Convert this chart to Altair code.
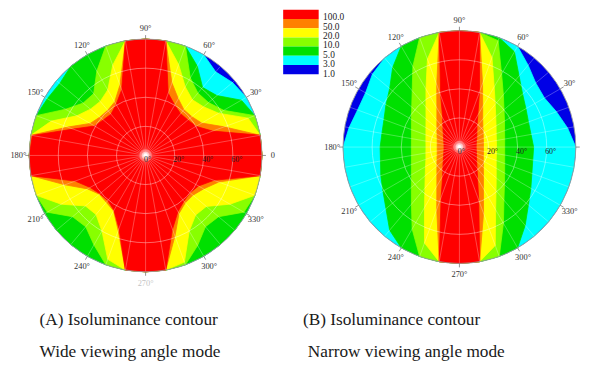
import math
import altair as alt
import pandas as pd

# ---------------- values ----------------
AZIMUTHS = [0, 10, 20, 30, 40, 50, 60, 70, 80, 90, 100, 110, 120, 130, 140, 150, 160, 170,
            180, 190, 200, 210, 220, 230, 240, 250, 260, 270, 280, 290, 300, 310, 320, 330, 340, 350]
MAX_POLAR = 80  # polar angle at the rim of each plot (deg)

LEVEL_LABELS = ["100.0", "50.0", "20.0", "10.0", "5.0", "3.0", "1.0"]
LEVEL_COLORS = ["#ff0000", "#ff8000", "#ffff00", "#88ff00", "#00e000", "#00ffff", "#0000e6"]

# Polar angle (deg) at which luminance falls below each level, per azimuth (A: wide mode)
A_100 = [80, 80, 49, 40, 38, 37.5, 40, 45.5, 80,
         80, 80, 48, 40.5, 37, 38, 40.5, 53, 79,
         80, 80, 51.5, 44, 41, 40.5, 43.5, 53.5, 80,
         80, 80, 54, 44.5, 41, 40, 42, 50, 80]
A_50 = [80, 80, 57.5, 44.5, 41.5, 41, 45, 53, 80,
        80, 80, 51.5, 42.5, 40.5, 41, 44, 57, 80,
        80, 80, 59, 46, 41.5, 42, 44, 55, 80,
        80, 80, 59, 46, 42.5, 42.5, 46, 53.5, 80]
A_20 = [80, 80, 75, 58, 52, 50, 54.5, 66.5, 80,
        80, 80, 66, 52, 48.5, 49.5, 54.5, 69, 80,
        80, 80, 80, 67, 54, 53, 60, 76, 80,
        80, 80, 78, 60, 53.5, 54.5, 67, 80, 80]
A_10 = [80, 80, 80, 62, 56.5, 56, 61.5, 80, 80,
        80, 80, 80, 67, 55.5, 56, 63.5, 80, 80,
        80, 80, 80, 78, 65.5, 64, 71, 80, 80,
        80, 80, 80, 71.5, 64, 65.5, 78, 80, 80]
A_5 = [80, 80, 80, 76, 64, 61, 71, 80, 80,
       80, 80, 80, 80, 80, 77, 78, 80, 80,
       80, 80, 80, 80, 80, 80, 80, 80, 80,
       80, 80, 80, 80, 80, 80, 80, 80, 80]
A_3 = [80, 80, 80, 80, 78, 75, 80, 80, 80,
       80, 80, 80, 80, 80, 80, 80, 80, 80,
       80, 80, 80, 80, 80, 80, 80, 80, 80,
       80, 80, 80, 80, 80, 80, 80, 80, 80]

# (B: narrow mode)
B_100 = [11.5, 11.8, 12.5, 13.8, 15.7, 18.8, 25.3, 40.3, 80,
         80, 80, 37.7, 23, 17.7, 14.5, 12.6, 11.5, 10.8,
         10.6, 10.8, 11.5, 12.6, 14.5, 17.7, 23, 36.8, 80,
         80, 80, 38.9, 24.9, 18.8, 15.5, 13.6, 12.5, 11.8]
B_50 = [16.5, 16.8, 17.5, 18.9, 21.1, 24.9, 32, 46.5, 80,
        80, 80, 45.6, 31, 24.1, 20.2, 17.8, 16.3, 15.5,
        15.3, 15.5, 16.3, 17.8, 20.2, 24.1, 31, 45.6, 80,
        80, 80, 48.5, 33, 25.7, 21.5, 19, 17.5, 16.8]
B_20 = [25.5, 25.8, 26.9, 29.1, 32.6, 38.3, 47.8, 65.5, 80,
        80, 80, 64.3, 46, 35.8, 30, 26.6, 24.5, 23.4,
        23, 23.4, 24.5, 26.9, 30.7, 36.9, 48, 70.2, 80,
        80, 80, 72, 49.8, 39.2, 33, 29.2, 26.9, 25.8]
B_10 = [31.1, 31.6, 33, 35.8, 40, 47, 58, 77.8, 80,
        80, 80, 80, 64, 50.5, 42.8, 38.1, 35.1, 33.5,
        33, 33.5, 35.1, 38.1, 43.1, 51.3, 65, 80, 80,
        80, 80, 80, 60.5, 47.6, 40.4, 35.9, 33.1, 31.6]
B_5 = [51, 50, 50.5, 52.8, 56.7, 63.8, 75.6, 80, 80,
       80, 80, 80, 80, 71.4, 62.6, 58.3, 55.2, 54.1,
       54.5, 55.1, 57.5, 60.7, 65.9, 74.6, 80, 80, 80,
       80, 80, 80, 80, 70.3, 61.9, 56.7, 53, 51.2]
B_3 = [80, 75.5, 71, 67.5, 68.5, 73.5, 80, 80, 80,
       80, 80, 80, 80, 80, 78, 74.5, 74.5, 77,
       80, 80, 80, 80, 80, 80, 80, 80, 80,
       80, 80, 80, 80, 80, 80, 80, 80, 80]

RING_ANGLES = [20, 40, 60]
RING_LABELS = ["0°", "20°", "40°", "60°"]
AZ_LABEL_ANGLES = [0, 30, 60, 90, 120, 150, 180, 210, 240, 270, 300, 330]
AZ_LABELS = ["0", "30°", "60°", "90°", "120°", "150°", "180°", "210°", "240°", "270°", "300°", "330°"]
CAPTION_1 = ["(A) Isoluminance contour", "(B) Isoluminance contour"]
CAPTION_2 = ["Wide viewing angle mode", "Narrow viewing angle mode"]

BOUNDS = {
    "A": {"3.0": A_3, "5.0": A_5, "10.0": A_10, "20.0": A_20, "50.0": A_50, "100.0": A_100},
    "B": {"3.0": B_3, "5.0": B_5, "10.0": B_10, "20.0": B_20, "50.0": B_50, "100.0": B_100},
}

# ---------------- layout (page pixels) ----------------
PANELS = ["A", "B"]
CENTERS = {"A": (147.5, 155.0), "B": (465.7, 146.5)}
R_PX = 118.0
PX = R_PX / MAX_POLAR
SERIF = "Liberation Serif"
W, H = 583, 359


def pos(panel, polar_px, az):
    cx, cy = CENTERS[panel]
    a = math.radians(az)
    return cx + polar_px * math.cos(a), cy - polar_px * math.sin(a)


X = lambda f="x": alt.X(f"{f}:Q", scale=alt.Scale(domain=[8, 8 + W], nice=False, zero=False), axis=None)
Y = lambda f="y": alt.Y(f"{f}:Q", scale=alt.Scale(domain=[8 + H, 8], nice=False, zero=False), axis=None)
CSCALE = alt.Scale(domain=LEVEL_LABELS, range=LEVEL_COLORS)

layers = []

# base disk (lowest level)
disk = pd.DataFrame([{"x": CENTERS[p][0], "y": CENTERS[p][1], "lab": "1.0"} for p in PANELS])
layers.append(alt.Chart(disk).mark_point(shape="circle", filled=True, size=(2 * R_PX) ** 2,
                                         opacity=1, strokeWidth=0).encode(
    x=X(), y=Y(), color=alt.Color("lab:N", scale=CSCALE, legend=None)))

# contour regions, from lowest to highest level
for lab in ["3.0", "5.0", "10.0", "20.0", "50.0", "100.0"]:
    rows = []
    for p in PANELS:
        vals = BOUNDS[p][lab]
        for i, (az, r) in enumerate(zip(AZIMUTHS + [AZIMUTHS[0]], vals + [vals[0]])):
            x, y = pos(p, r * PX, az)
            rows.append({"panel": p, "i": i, "x": x, "y": y, "lab": lab})
    layers.append(alt.Chart(pd.DataFrame(rows)).mark_line(strokeWidth=0.8).encode(
        x=X(), y=Y(), detail="panel:N", order="i:Q",
        fill=alt.Fill("lab:N", scale=CSCALE, legend=None),
        stroke=alt.Stroke("lab:N", scale=CSCALE, legend=None)))

# grid rings
rings = pd.DataFrame([{"x": CENTERS[p][0], "y": CENTERS[p][1], "s": (2 * a * PX) ** 2}
                      for p in PANELS for a in RING_ANGLES])
layers.append(alt.Chart(rings).mark_point(shape="circle", filled=False, color="white",
                                          strokeWidth=0.8, opacity=0.5).encode(
    x=X(), y=Y(), size=alt.Size("s:Q", scale=None, legend=None)))

# spokes
sp = []
for p in PANELS:
    for az in AZIMUTHS:
        x2, y2 = pos(p, R_PX, az)
        sp.append({"x": CENTERS[p][0], "y": CENTERS[p][1], "x2": x2, "y2": y2})
layers.append(alt.Chart(pd.DataFrame(sp)).mark_rule(color="white", strokeWidth=0.7, opacity=0.4).encode(
    x=X(), y=Y(), x2="x2:Q", y2="y2:Q"))

# rim outline
layers.append(alt.Chart(disk).mark_point(shape="circle", filled=False, size=(2 * R_PX) ** 2,
                                         color="#9a9a9a", strokeWidth=0.9, opacity=1).encode(x=X(), y=Y()))

# rim ticks and azimuth labels (the right plot's "0" falls outside the picture)
tk, tl = [], []
for p in PANELS:
    for az, t in zip(AZ_LABEL_ANGLES, AZ_LABELS):
        x1, y1 = pos(p, R_PX, az)
        x2, y2 = pos(p, R_PX + 4, az)
        tk.append({"x": x1, "y": y1, "x2": x2, "y2": y2})
        if p == "B" and az == 0:
            continue
        lx, ly = pos(p, R_PX + 11, az)
        op = 0.3 if (p == "A" and az == 270) else 1.0
        tl.append({"x": lx, "y": ly, "t": t, "op": op})
layers.append(alt.Chart(pd.DataFrame(tk)).mark_rule(color="#777777", strokeWidth=0.8).encode(
    x=X(), y=Y(), x2="x2:Q", y2="y2:Q"))
layers.append(alt.Chart(pd.DataFrame(tl)).mark_text(font=SERIF, fontSize=8.5, color="#333333",
                                                    align="center", baseline="middle").encode(
    x=X(), y=Y(), text="t:N", opacity=alt.Opacity("op:Q", scale=None)))

# centre glow
glow = pd.DataFrame([{"x": CENTERS[p][0], "y": CENTERS[p][1], "s": s, "o": o}
                     for p in PANELS for s, o in [(160, 0.3), (60, 0.5), (18, 0.9)]])
layers.append(alt.Chart(glow).mark_point(shape="circle", filled=True, color="white", strokeWidth=0).encode(
    x=X(), y=Y(), size=alt.Size("s:Q", scale=None, legend=None), opacity=alt.Opacity("o:Q", scale=None)))

# radial (polar angle) labels
rl = []
for p in PANELS:
    for a, t in zip([0] + RING_ANGLES, RING_LABELS):
        cx, cy = CENTERS[p]
        rl.append({"x": cx + a * PX + (2 if a == 0 else 4), "y": cy + 5, "t": t})
layers.append(alt.Chart(pd.DataFrame(rl)).mark_text(font=SERIF, fontSize=8, color="#222222",
                                                    align="center", baseline="middle").encode(
    x=X(), y=Y(), text="t:N"))

# legend colour bar
LEG_X0, LEG_X1, LEG_Y0, LEG_H = 287, 323, 7.3, 9.34
leg = pd.DataFrame([{"x": LEG_X0, "x2": LEG_X1, "y": LEG_Y0 + i * LEG_H, "y2": LEG_Y0 + (i + 1) * LEG_H,
                     "lab": lab, "ly": 15 + i * 9.5, "lx": LEG_X1 + 4.5}
                    for i, lab in enumerate(LEVEL_LABELS)])
layers.append(alt.Chart(leg).mark_rect(strokeWidth=0).encode(
    x=X(), y=Y(), x2="x2:Q", y2="y2:Q", color=alt.Color("lab:N", scale=CSCALE, legend=None)))
layers.append(alt.Chart(leg).mark_text(font=SERIF, fontSize=9.5, color="#222222",
                                       align="left", baseline="middle").encode(
    x=X("lx"), y=Y("ly"), text="lab:N"))

# captions
cap = pd.DataFrame([
    {"x": 40, "y": 327, "t": CAPTION_1[0]}, {"x": 40, "y": 359, "t": CAPTION_2[0]},
    {"x": 307, "y": 327, "t": CAPTION_1[1]}, {"x": 312, "y": 359, "t": CAPTION_2[1]},
])
layers.append(alt.Chart(cap).mark_text(font=SERIF, fontSize=17.5, color="#1a1a1a",
                                       align="left", baseline="alphabetic").encode(
    x=X(), y=Y(), text="t:N"))

chart = alt.layer(*layers).properties(
    width=W, height=H, padding=0, autosize=alt.AutoSizeParams(type="none"),
    background="white",
).configure_view(stroke=None)

chart.save("out.html", embed_options={"renderer": "svg", "actions": False})
